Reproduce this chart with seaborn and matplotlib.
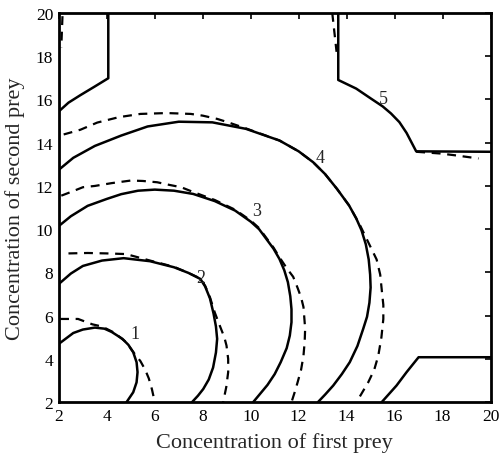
import matplotlib
matplotlib.use("Agg")
import matplotlib.pyplot as plt
import seaborn as sns

# Curves (x = first prey, y = second prey)
curve1_solid = [(2.0, 4.7), (2.6, 5.2), (3.0, 5.36), (3.5, 5.45), (3.9, 5.4), (4.2, 5.25),
                (4.65, 4.93), (4.9, 4.65), (5.1, 4.31), (5.24, 3.85), (5.28, 3.39),
                (5.24, 2.92), (5.1, 2.46), (4.82, 2.0)]
curve1_dashed = [(2.05, 5.85), (2.8, 5.85), (3.4, 5.6), (3.8, 5.5), (4.3, 5.22), (4.8, 4.78),
                 (5.15, 4.25), (5.4, 3.9), (5.6, 3.5), (5.75, 3.1), (5.88, 2.6), (6.0, 2.0)]

curve2_solid = [(2.0, 7.47), (2.5, 7.95), (3.0, 8.3), (3.8, 8.55), (4.7, 8.66), (5.8, 8.52),
                (6.8, 8.24), (7.4, 7.98), (7.9, 7.7), (8.1, 7.35), (8.3, 6.8), (8.45, 6.1),
                (8.55, 5.5), (8.6, 4.93), (8.55, 4.3), (8.43, 3.6), (8.25, 3.05),
                (8.02, 2.61), (7.8, 2.3), (7.55, 2.0)]
curve2_dashed = [(2.4, 8.88), (3.2, 8.9), (4.0, 8.88), (4.8, 8.85), (5.8, 8.55), (6.8, 8.26),
                 (7.4, 7.98), (7.9, 7.72), (8.1, 7.38), (8.3, 6.85), (8.5, 6.15),
                 (8.71, 5.54), (8.9, 5.0), (8.99, 4.62), (9.06, 4.0), (9.06, 3.39),
                 (8.98, 2.7), (8.85, 2.0)]

curve3_solid = [(2.0, 10.15), (2.5, 10.6), (3.2, 11.08), (4.0, 11.4), (4.6, 11.62), (5.3, 11.78),
                (6.0, 11.83), (6.8, 11.78), (7.6, 11.63), (8.5, 11.3), (9.35, 10.86),
                (10.0, 10.35), (10.35, 10.0), (10.65, 9.55), (10.95, 9.1), (11.2, 8.62),
                (11.4, 8.1), (11.55, 7.55), (11.65, 6.9), (11.7, 6.3), (11.7, 5.7),
                (11.63, 5.08), (11.5, 4.5), (11.25, 3.85), (11.0, 3.3), (10.7, 2.8),
                (10.4, 2.4), (10.1, 2.0)]
curve3_dashed = [(2.1, 11.55), (2.5, 11.72), (3.0, 11.94), (3.5, 12.0), (4.2, 12.13), (5.0, 12.25),
                 (5.5, 12.23), (6.1, 12.17), (6.6, 12.05), (7.1, 11.94), (7.6, 11.72),
                 (8.5, 11.35), (9.35, 10.9), (10.0, 10.4), (10.35, 10.05), (10.65, 9.6),
                 (10.95, 9.15), (11.2, 8.7), (11.5, 8.2), (11.77, 7.8), (11.95, 7.3),
                 (12.1, 6.85), (12.2, 6.4), (12.27, 5.4), (12.25, 4.8), (12.2, 4.15),
                 (12.1, 3.5), (11.95, 2.9), (11.83, 2.45), (11.7, 2.0)]

curve4_solid = [(2.0, 12.75), (2.6, 13.3), (3.5, 13.85), (4.6, 14.33), (5.7, 14.75), (7.0, 14.97),
                (8.4, 14.94), (9.8, 14.64), (11.2, 14.1), (12.0, 13.6), (12.6, 13.1),
                (13.1, 12.55), (13.6, 11.86), (14.1, 11.1), (14.4, 10.5), (14.62, 9.95),
                (14.8, 9.3), (14.92, 8.6), (14.98, 7.9), (15.0, 7.3), (14.95, 6.6),
                (14.85, 5.95), (14.69, 5.39), (14.45, 4.6), (14.13, 3.85), (13.8, 3.3),
                (13.44, 2.77), (13.1, 2.35), (12.8, 2.0)]
curve4_dashed = [(2.2, 14.38), (2.9, 14.6), (3.6, 14.93), (4.5, 15.18), (5.4, 15.33), (6.5, 15.37),
                 (7.5, 15.33), (8.0, 15.25), (8.6, 15.1), (9.06, 14.94), (9.8, 14.66),
                 (11.2, 14.1), (12.0, 13.6), (12.6, 13.1), (13.1, 12.55), (13.6, 11.86),
                 (14.1, 11.1), (14.55, 10.2), (14.9, 9.4), (15.25, 8.6), (15.4, 7.9),
                 (15.46, 7.24), (15.53, 6.5), (15.53, 5.85), (15.45, 5.0), (15.32, 4.15),
                 (15.15, 3.5), (14.9, 2.92), (14.65, 2.45), (14.41, 2.0)]

curve5_topleft = [(2.0, 15.45), (2.4, 15.85), (2.9, 16.2), (3.5, 16.6), (4.06, 16.98), (4.06, 20.0)]
curve5_topright = [(13.65, 20.0), (13.65, 16.9), (14.4, 16.5), (15.0, 16.05), (15.5, 15.68),
                   (15.85, 15.35), (16.2, 14.95), (16.5, 14.45), (16.9, 13.6), (20.0, 13.58)]
curve5_bottomright = [(15.46, 2.0), (16.08, 2.77), (16.5, 3.39), (17.0, 4.08), (20.0, 4.08)]
curve5_dashed_left = [(2.15, 19.85), (2.1, 18.4)]
curve5_dashed_top = [(13.4, 20.0), (13.58, 18.2)]
curve5_dashed_right = [(16.9, 13.58), (17.9, 13.5), (18.5, 13.42), (19.5, 13.27)]

solid_curves = [curve1_solid, curve2_solid, curve3_solid, curve4_solid,
                curve5_topleft, curve5_topright, curve5_bottomright]
dashed_curves = [curve1_dashed, curve2_dashed, curve3_dashed, curve4_dashed,
                 curve5_dashed_left, curve5_dashed_top, curve5_dashed_right]

curve_labels = ["1", "2", "3", "4", "5"]
label_x = [5.17, 7.92, 10.24, 12.88, 15.55]
label_y = [5.16, 7.78, 10.86, 13.33, 16.02]

ticks = [2, 4, 6, 8, 10, 12, 14, 16, 18, 20]

sns.set_style("white")
plt.rcParams["font.family"] = ["Liberation Serif", "DejaVu Serif"]

fig = plt.figure(figsize=(4.99, 4.64), dpi=100)
ax = fig.add_axes([0.118, 0.131, 0.865, 0.839])

for pts in solid_curves:
    xs = [p[0] for p in pts]
    ys = [p[1] for p in pts]
    sns.lineplot(x=xs, y=ys, sort=False, estimator=None, color="black",
                 linewidth=1.8, solid_joinstyle="round", solid_capstyle="round", ax=ax)

for pts in dashed_curves:
    xs = [p[0] for p in pts]
    ys = [p[1] for p in pts]
    sns.lineplot(x=xs, y=ys, sort=False, estimator=None, color="black",
                 linewidth=1.6, linestyle=(0, (4, 3)), ax=ax)

for lab, lx, ly in zip(curve_labels, label_x, label_y):
    ax.text(lx, ly, lab, fontsize=13, ha="center", va="center")

ax.set_xlim(2, 20)
ax.set_ylim(2, 20)
ax.set_xticks(ticks)
ax.set_yticks(ticks)
ax.tick_params(direction="in", length=4, width=1.2, top=True, right=True,
               labelsize=12.5, pad=4, colors="black")
for s in ax.spines.values():
    s.set_linewidth(2.0)
    s.set_color("black")

ax.set_xlabel("Concentration of first prey", fontsize=16, labelpad=6)
ax.set_ylabel("Concentration of second prey", fontsize=16, labelpad=8)

fig.savefig("out.png", dpi=100)
